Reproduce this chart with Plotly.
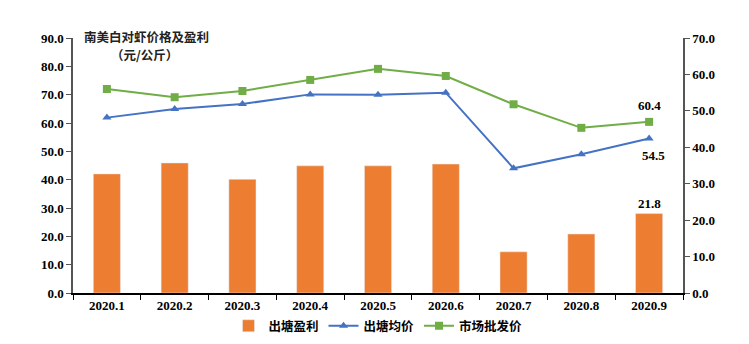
import plotly.graph_objects as go

months = ["2020.1", "2020.2", "2020.3", "2020.4", "2020.5", "2020.6", "2020.7", "2020.8", "2020.9"]
profit = [32.7, 35.7, 31.2, 34.9, 34.9, 35.4, 11.3, 16.2, 21.8]
avg_price = [61.9, 64.9, 66.7, 70.1, 70.0, 70.7, 44.0, 49.0, 54.5]
wholesale = [72.0, 69.1, 71.3, 75.2, 79.1, 76.6, 66.6, 58.3, 60.4]
left_ticks = [0, 10, 20, 30, 40, 50, 60, 70, 80, 90]
right_ticks = [0, 10, 20, 30, 40, 50, 60, 70]

xi = list(range(len(months)))
font_tick = dict(family="Liberation Serif", size=13, color="#000000")
font_title = dict(family="Noto Sans CJK SC", size=12.5, color="#222222")

fig = go.Figure()
fig.add_trace(go.Bar(x=xi, y=profit, name="<b>出塘盈利</b>", marker_color="#ED7D31",
                     width=0.4, yaxis="y2"))
fig.add_trace(go.Scatter(x=xi, y=avg_price, name="<b>出塘均价</b>", mode="lines+markers",
                         line=dict(color="#4472C4", width=2),
                         marker=dict(symbol="triangle-up", size=8, color="#4472C4")))
fig.add_trace(go.Scatter(x=xi, y=wholesale, name="<b>市场批发价</b>", mode="lines+markers",
                         line=dict(color="#70AD47", width=2),
                         marker=dict(symbol="square", size=8, color="#70AD47")))

fig.add_annotation(x=xi[-1], y=wholesale[-1], yref="y", text="<b>%.1f</b>" % wholesale[-1],
                   showarrow=False, yshift=16, font=font_tick)
fig.add_annotation(x=xi[-1], y=avg_price[-1], yref="y", text="<b>%.1f</b>" % avg_price[-1],
                   showarrow=False, yshift=-17, xshift=4, font=font_tick)
fig.add_annotation(x=xi[-1], y=profit[-1], yref="y2", text="<b>%.1f</b>" % profit[-1],
                   showarrow=False, yshift=10, font=font_tick)
fig.add_annotation(xref="paper", yref="paper", x=0.121, y=1.004, xanchor="center", yanchor="middle",
                   text="<b>南美白对虾价格及盈利</b>", showarrow=False, font=font_title)
fig.add_annotation(xref="paper", yref="paper", x=0.118, y=0.937, xanchor="center", yanchor="middle",
                   text="<b>（元/公斤）</b>", showarrow=False, font=font_title)

fig.update_layout(
    width=749, height=344,
    margin=dict(l=73, r=66, t=38, b=51, autoexpand=False),
    plot_bgcolor="white", paper_bgcolor="white",
    showlegend=True,
    legend=dict(orientation="h", x=0.5, xanchor="center", y=-0.13, yanchor="middle",
                font=dict(family="Noto Sans CJK SC", size=12.5, color="#000000"),
                traceorder="normal"),
    xaxis=dict(range=[-0.5, len(months) - 0.5], tickvals=xi,
               ticktext=["<b>%s</b>" % m for m in months], tickangle=0,
               showline=True, linecolor="#000000", linewidth=1.5,
               ticks="", tickfont=font_tick, showgrid=False, zeroline=False,
               minor=dict(ticks="outside", tick0=-0.5, dtick=1, ticklen=5,
                          tickcolor="#000000", showgrid=False)),
    yaxis=dict(range=[0, 90], tickvals=left_ticks, ticktext=["<b>%.1f</b>" % v for v in left_ticks],
               showline=True, linecolor="#555555", linewidth=1.5, ticks="outside", ticklen=5,
               tickcolor="#555555", tickfont=font_tick, showgrid=False, zeroline=False),
    yaxis2=dict(range=[0, 70], tickvals=right_ticks, ticktext=["<b>%.1f</b>" % v for v in right_ticks],
                overlaying="y", side="right", showline=True, linecolor="#555555", linewidth=1.5,
                ticks="outside", ticklen=5, tickcolor="#555555", tickfont=font_tick,
                showgrid=False, zeroline=False),
)

fig.write_html("out.html")
